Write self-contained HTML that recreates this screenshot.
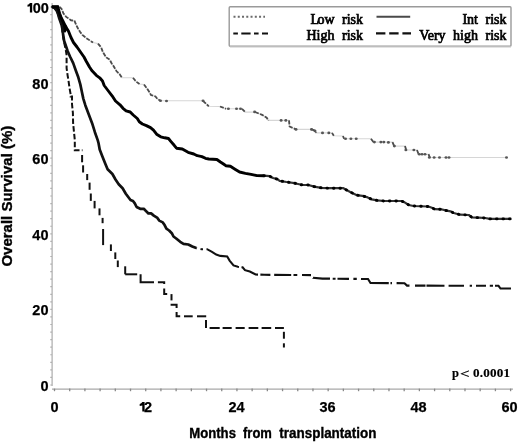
<!DOCTYPE html>
<html><head><meta charset="utf-8"><style>
html,body{margin:0;padding:0;background:#fff;}
body{width:520px;height:443px;overflow:hidden;position:relative;}
svg{position:absolute;left:0;top:0;filter:blur(0.4px);}
.sans{font-family:"Liberation Sans",sans-serif;font-weight:bold;}
</style></head><body>
<svg width="520" height="443" viewBox="0 0 520 443">
<rect x="0" y="0" width="520" height="443" fill="#fff"/>
<line x1="52.1" y1="3" x2="52.1" y2="386" stroke="#ababab" stroke-width="1.2"/>
<line x1="52" y1="389.1" x2="513" y2="389.1" stroke="#a8a8a8" stroke-width="1.2"/>
<line x1="50.3" y1="385.00" x2="52" y2="385.00" stroke="#b0b0b0" stroke-width="1.2"/>
<line x1="50.3" y1="377.44" x2="52" y2="377.44" stroke="#b0b0b0" stroke-width="1.2"/>
<line x1="50.3" y1="369.88" x2="52" y2="369.88" stroke="#b0b0b0" stroke-width="1.2"/>
<line x1="50.3" y1="362.32" x2="52" y2="362.32" stroke="#b0b0b0" stroke-width="1.2"/>
<line x1="50.3" y1="354.76" x2="52" y2="354.76" stroke="#b0b0b0" stroke-width="1.2"/>
<line x1="50.3" y1="347.20" x2="52" y2="347.20" stroke="#b0b0b0" stroke-width="1.2"/>
<line x1="50.3" y1="339.64" x2="52" y2="339.64" stroke="#b0b0b0" stroke-width="1.2"/>
<line x1="50.3" y1="332.08" x2="52" y2="332.08" stroke="#b0b0b0" stroke-width="1.2"/>
<line x1="50.3" y1="324.52" x2="52" y2="324.52" stroke="#b0b0b0" stroke-width="1.2"/>
<line x1="50.3" y1="316.96" x2="52" y2="316.96" stroke="#b0b0b0" stroke-width="1.2"/>
<line x1="50.3" y1="309.40" x2="52" y2="309.40" stroke="#b0b0b0" stroke-width="1.2"/>
<line x1="50.3" y1="301.84" x2="52" y2="301.84" stroke="#b0b0b0" stroke-width="1.2"/>
<line x1="50.3" y1="294.28" x2="52" y2="294.28" stroke="#b0b0b0" stroke-width="1.2"/>
<line x1="50.3" y1="286.72" x2="52" y2="286.72" stroke="#b0b0b0" stroke-width="1.2"/>
<line x1="50.3" y1="279.16" x2="52" y2="279.16" stroke="#b0b0b0" stroke-width="1.2"/>
<line x1="50.3" y1="271.60" x2="52" y2="271.60" stroke="#b0b0b0" stroke-width="1.2"/>
<line x1="50.3" y1="264.04" x2="52" y2="264.04" stroke="#b0b0b0" stroke-width="1.2"/>
<line x1="50.3" y1="256.48" x2="52" y2="256.48" stroke="#b0b0b0" stroke-width="1.2"/>
<line x1="50.3" y1="248.92" x2="52" y2="248.92" stroke="#b0b0b0" stroke-width="1.2"/>
<line x1="50.3" y1="241.36" x2="52" y2="241.36" stroke="#b0b0b0" stroke-width="1.2"/>
<line x1="50.3" y1="233.80" x2="52" y2="233.80" stroke="#b0b0b0" stroke-width="1.2"/>
<line x1="50.3" y1="226.24" x2="52" y2="226.24" stroke="#b0b0b0" stroke-width="1.2"/>
<line x1="50.3" y1="218.68" x2="52" y2="218.68" stroke="#b0b0b0" stroke-width="1.2"/>
<line x1="50.3" y1="211.12" x2="52" y2="211.12" stroke="#b0b0b0" stroke-width="1.2"/>
<line x1="50.3" y1="203.56" x2="52" y2="203.56" stroke="#b0b0b0" stroke-width="1.2"/>
<line x1="50.3" y1="196.00" x2="52" y2="196.00" stroke="#b0b0b0" stroke-width="1.2"/>
<line x1="50.3" y1="188.44" x2="52" y2="188.44" stroke="#b0b0b0" stroke-width="1.2"/>
<line x1="50.3" y1="180.88" x2="52" y2="180.88" stroke="#b0b0b0" stroke-width="1.2"/>
<line x1="50.3" y1="173.32" x2="52" y2="173.32" stroke="#b0b0b0" stroke-width="1.2"/>
<line x1="50.3" y1="165.76" x2="52" y2="165.76" stroke="#b0b0b0" stroke-width="1.2"/>
<line x1="50.3" y1="158.20" x2="52" y2="158.20" stroke="#b0b0b0" stroke-width="1.2"/>
<line x1="50.3" y1="150.64" x2="52" y2="150.64" stroke="#b0b0b0" stroke-width="1.2"/>
<line x1="50.3" y1="143.08" x2="52" y2="143.08" stroke="#b0b0b0" stroke-width="1.2"/>
<line x1="50.3" y1="135.52" x2="52" y2="135.52" stroke="#b0b0b0" stroke-width="1.2"/>
<line x1="50.3" y1="127.96" x2="52" y2="127.96" stroke="#b0b0b0" stroke-width="1.2"/>
<line x1="50.3" y1="120.40" x2="52" y2="120.40" stroke="#b0b0b0" stroke-width="1.2"/>
<line x1="50.3" y1="112.84" x2="52" y2="112.84" stroke="#b0b0b0" stroke-width="1.2"/>
<line x1="50.3" y1="105.28" x2="52" y2="105.28" stroke="#b0b0b0" stroke-width="1.2"/>
<line x1="50.3" y1="97.72" x2="52" y2="97.72" stroke="#b0b0b0" stroke-width="1.2"/>
<line x1="50.3" y1="90.16" x2="52" y2="90.16" stroke="#b0b0b0" stroke-width="1.2"/>
<line x1="50.3" y1="82.60" x2="52" y2="82.60" stroke="#b0b0b0" stroke-width="1.2"/>
<line x1="50.3" y1="75.04" x2="52" y2="75.04" stroke="#b0b0b0" stroke-width="1.2"/>
<line x1="50.3" y1="67.48" x2="52" y2="67.48" stroke="#b0b0b0" stroke-width="1.2"/>
<line x1="50.3" y1="59.92" x2="52" y2="59.92" stroke="#b0b0b0" stroke-width="1.2"/>
<line x1="50.3" y1="52.36" x2="52" y2="52.36" stroke="#b0b0b0" stroke-width="1.2"/>
<line x1="50.3" y1="44.80" x2="52" y2="44.80" stroke="#b0b0b0" stroke-width="1.2"/>
<line x1="50.3" y1="37.24" x2="52" y2="37.24" stroke="#b0b0b0" stroke-width="1.2"/>
<line x1="50.3" y1="29.68" x2="52" y2="29.68" stroke="#b0b0b0" stroke-width="1.2"/>
<line x1="50.3" y1="22.12" x2="52" y2="22.12" stroke="#b0b0b0" stroke-width="1.2"/>
<line x1="50.3" y1="14.56" x2="52" y2="14.56" stroke="#b0b0b0" stroke-width="1.2"/>
<line x1="50.3" y1="7.00" x2="52" y2="7.00" stroke="#b0b0b0" stroke-width="1.2"/>
<line x1="54.50" y1="388.6" x2="54.50" y2="391.2" stroke="#888" stroke-width="1.3"/>
<line x1="69.70" y1="388.6" x2="69.70" y2="391.2" stroke="#888" stroke-width="1.3"/>
<line x1="84.91" y1="388.6" x2="84.91" y2="391.2" stroke="#888" stroke-width="1.3"/>
<line x1="100.11" y1="388.6" x2="100.11" y2="391.2" stroke="#888" stroke-width="1.3"/>
<line x1="115.31" y1="388.6" x2="115.31" y2="391.2" stroke="#888" stroke-width="1.3"/>
<line x1="130.52" y1="388.6" x2="130.52" y2="391.2" stroke="#888" stroke-width="1.3"/>
<line x1="145.72" y1="388.6" x2="145.72" y2="391.2" stroke="#888" stroke-width="1.3"/>
<line x1="160.92" y1="388.6" x2="160.92" y2="391.2" stroke="#888" stroke-width="1.3"/>
<line x1="176.13" y1="388.6" x2="176.13" y2="391.2" stroke="#888" stroke-width="1.3"/>
<line x1="191.33" y1="388.6" x2="191.33" y2="391.2" stroke="#888" stroke-width="1.3"/>
<line x1="206.53" y1="388.6" x2="206.53" y2="391.2" stroke="#888" stroke-width="1.3"/>
<line x1="221.74" y1="388.6" x2="221.74" y2="391.2" stroke="#888" stroke-width="1.3"/>
<line x1="236.94" y1="388.6" x2="236.94" y2="391.2" stroke="#888" stroke-width="1.3"/>
<line x1="252.14" y1="388.6" x2="252.14" y2="391.2" stroke="#888" stroke-width="1.3"/>
<line x1="267.35" y1="388.6" x2="267.35" y2="391.2" stroke="#888" stroke-width="1.3"/>
<line x1="282.55" y1="388.6" x2="282.55" y2="391.2" stroke="#888" stroke-width="1.3"/>
<line x1="297.75" y1="388.6" x2="297.75" y2="391.2" stroke="#888" stroke-width="1.3"/>
<line x1="312.96" y1="388.6" x2="312.96" y2="391.2" stroke="#888" stroke-width="1.3"/>
<line x1="328.16" y1="388.6" x2="328.16" y2="391.2" stroke="#888" stroke-width="1.3"/>
<line x1="343.36" y1="388.6" x2="343.36" y2="391.2" stroke="#888" stroke-width="1.3"/>
<line x1="358.57" y1="388.6" x2="358.57" y2="391.2" stroke="#888" stroke-width="1.3"/>
<line x1="373.77" y1="388.6" x2="373.77" y2="391.2" stroke="#888" stroke-width="1.3"/>
<line x1="388.97" y1="388.6" x2="388.97" y2="391.2" stroke="#888" stroke-width="1.3"/>
<line x1="404.18" y1="388.6" x2="404.18" y2="391.2" stroke="#888" stroke-width="1.3"/>
<line x1="419.38" y1="388.6" x2="419.38" y2="391.2" stroke="#888" stroke-width="1.3"/>
<line x1="434.58" y1="388.6" x2="434.58" y2="391.2" stroke="#888" stroke-width="1.3"/>
<line x1="449.79" y1="388.6" x2="449.79" y2="391.2" stroke="#888" stroke-width="1.3"/>
<line x1="464.99" y1="388.6" x2="464.99" y2="391.2" stroke="#888" stroke-width="1.3"/>
<line x1="480.19" y1="388.6" x2="480.19" y2="391.2" stroke="#888" stroke-width="1.3"/>
<line x1="495.40" y1="388.6" x2="495.40" y2="391.2" stroke="#888" stroke-width="1.3"/>
<line x1="510.60" y1="388.6" x2="510.60" y2="391.2" stroke="#888" stroke-width="1.3"/>
<polygon points="51.3,5.8 58.8,5.5 59.2,8.1 60,12.2 61.2,16.2 62.8,19.9 65.3,23.4 67.5,27.5 67,30 65.5,32.5 62.8,32.5 62,28.8 61.1,25 59.9,21.5 58.6,18 57.6,14 56.4,10.8 54.6,8.3 51.3,7.4" fill="#000"/>
<polyline points="52,6.8 59.5,6.8 61.5,8.8 63.5,13.5 66.2,16.9 68.3,18.2 71,20.3 74.4,20.6 76.2,24.9 78.1,28.7 80,31.8 82.4,34.9 86.2,38 89.9,40.5 93,42.6 98,43.6 101.1,47.3 103,52.3 106.1,57.3 109.8,59.8 111.7,63.5 113.2,65.6 116.6,71.3 119.5,74 122,77.8 133,77.8 134,79 136,81.5 139.5,84 144,84.5 147,88.5 149,91.5 151,95 155.5,96.5 157.5,99 160.5,100.8 203,100.8 208.8,106.3 220,106.5 226,108.8 242,108.8 245.2,112.1 255,112 262.1,114.8 266.7,117.7 268.5,120.4 289,120.4 289.6,126.5 296,129.4 311.5,129.4 315,130.6 316.1,132.9 332,132.9 333.8,135.8 343,136 344,138.8 371,138.8 373.5,142.1 392.5,142.1 394.2,146.1 405,146.1 406.2,150 417,150 418.6,154.2 428.5,154.2 429.8,157.5 507,157.5" fill="none" stroke="#d6d6d6" stroke-width="1.1"/>
<polyline points="59.5,6.8 61.5,8.8 63.5,13.5 66.2,16.9 68.3,18.2 71,20.3 74.4,20.6 76.2,24.9 78.1,28.7 80,31.8 82.4,34.9 86.2,38 89.9,40.5 93,42.6" fill="none" stroke="#4c4c4c" stroke-width="1.8" stroke-dasharray="4,1.4"/>
<polyline points="98,43.6 101.1,47.3 103,52.3 106.1,57.3 109.8,59.8 111.7,63.5 113.2,65.6 116.6,71.3 119.5,74 122,77.8" fill="none" stroke="#4c4c4c" stroke-width="1.8" stroke-dasharray="4,1.4"/>
<polyline points="133,77.8 134,79 136,81.5 139.5,84" fill="none" stroke="#4c4c4c" stroke-width="1.8" stroke-dasharray="4,1.4"/>
<polyline points="144,84.5 147,88.5 149,91.5 151,95 155.5,96.5 157.5,99 160.5,100.8" fill="none" stroke="#4c4c4c" stroke-width="1.8" stroke-dasharray="4,1.4"/>
<polyline points="203,100.8 208.8,106.3" fill="none" stroke="#4c4c4c" stroke-width="1.8" stroke-dasharray="4,1.4"/>
<polyline points="220,106.5 226,108.8" fill="none" stroke="#4c4c4c" stroke-width="1.8" stroke-dasharray="4,1.4"/>
<polyline points="242,108.8 245.2,112.1" fill="none" stroke="#4c4c4c" stroke-width="1.8" stroke-dasharray="4,1.4"/>
<polyline points="255,112 262.1,114.8 266.7,117.7 268.5,120.4" fill="none" stroke="#4c4c4c" stroke-width="1.8" stroke-dasharray="4,1.4"/>
<polyline points="289,120.4 289.6,126.5 296,129.4" fill="none" stroke="#4c4c4c" stroke-width="1.8" stroke-dasharray="4,1.4"/>
<polyline points="311.5,129.4 315,130.6 316.1,132.9" fill="none" stroke="#4c4c4c" stroke-width="1.8" stroke-dasharray="4,1.4"/>
<polyline points="332,132.9 333.8,135.8" fill="none" stroke="#4c4c4c" stroke-width="1.8" stroke-dasharray="4,1.4"/>
<polyline points="343,136 344,138.8" fill="none" stroke="#4c4c4c" stroke-width="1.8" stroke-dasharray="4,1.4"/>
<polyline points="371,138.8 373.5,142.1" fill="none" stroke="#4c4c4c" stroke-width="1.8" stroke-dasharray="4,1.4"/>
<polyline points="392.5,142.1 394.2,146.1" fill="none" stroke="#4c4c4c" stroke-width="1.8" stroke-dasharray="4,1.4"/>
<polyline points="405,146.1 406.2,150" fill="none" stroke="#4c4c4c" stroke-width="1.8" stroke-dasharray="4,1.4"/>
<polyline points="417,150 418.6,154.2" fill="none" stroke="#4c4c4c" stroke-width="1.8" stroke-dasharray="4,1.4"/>
<polyline points="428.5,154.2 429.8,157.5" fill="none" stroke="#4c4c4c" stroke-width="1.8" stroke-dasharray="4,1.4"/>
<ellipse cx="160.5" cy="100.8" rx="1.5" ry="1.3" fill="#555"/>
<ellipse cx="166.5" cy="101" rx="1.5" ry="1.3" fill="#555"/>
<ellipse cx="203" cy="100.8" rx="1.5" ry="1.3" fill="#555"/>
<ellipse cx="228.4" cy="108.8" rx="1.5" ry="1.3" fill="#555"/>
<ellipse cx="236.5" cy="108.8" rx="1.5" ry="1.3" fill="#555"/>
<ellipse cx="240.5" cy="108.8" rx="1.5" ry="1.3" fill="#555"/>
<ellipse cx="254.6" cy="111.9" rx="1.5" ry="1.3" fill="#555"/>
<ellipse cx="281.1" cy="120.4" rx="1.5" ry="1.3" fill="#555"/>
<ellipse cx="285.8" cy="120.4" rx="1.5" ry="1.3" fill="#555"/>
<ellipse cx="296" cy="129.4" rx="1.5" ry="1.3" fill="#555"/>
<ellipse cx="311.5" cy="129.4" rx="1.5" ry="1.3" fill="#555"/>
<ellipse cx="315" cy="131" rx="1.5" ry="1.3" fill="#555"/>
<ellipse cx="322.5" cy="132.9" rx="1.5" ry="1.3" fill="#555"/>
<ellipse cx="328.8" cy="132.9" rx="1.5" ry="1.3" fill="#555"/>
<ellipse cx="345.5" cy="138.8" rx="1.5" ry="1.3" fill="#555"/>
<ellipse cx="350.9" cy="138.8" rx="1.5" ry="1.3" fill="#555"/>
<ellipse cx="356.2" cy="138.8" rx="1.5" ry="1.3" fill="#555"/>
<ellipse cx="374.4" cy="142.1" rx="1.5" ry="1.3" fill="#555"/>
<ellipse cx="380.9" cy="142.1" rx="1.5" ry="1.3" fill="#555"/>
<ellipse cx="383.8" cy="142.1" rx="1.5" ry="1.3" fill="#555"/>
<ellipse cx="388.4" cy="142.4" rx="1.5" ry="1.3" fill="#555"/>
<ellipse cx="394.4" cy="146.1" rx="1.5" ry="1.3" fill="#555"/>
<ellipse cx="405.9" cy="150" rx="1.5" ry="1.3" fill="#555"/>
<ellipse cx="413.9" cy="150" rx="1.5" ry="1.3" fill="#555"/>
<ellipse cx="419.3" cy="154.2" rx="1.5" ry="1.3" fill="#555"/>
<ellipse cx="422" cy="154.2" rx="1.5" ry="1.3" fill="#555"/>
<ellipse cx="425" cy="154.2" rx="1.5" ry="1.3" fill="#555"/>
<ellipse cx="429.4" cy="157.5" rx="1.5" ry="1.3" fill="#555"/>
<ellipse cx="434.1" cy="157.5" rx="1.5" ry="1.3" fill="#555"/>
<ellipse cx="439.5" cy="157.5" rx="1.5" ry="1.3" fill="#555"/>
<ellipse cx="446" cy="157.5" rx="1.5" ry="1.3" fill="#555"/>
<ellipse cx="449" cy="157.5" rx="1.5" ry="1.3" fill="#555"/>
<ellipse cx="506.5" cy="157.5" rx="1.5" ry="1.3" fill="#555"/>
<polyline points="52,6.8 54.6,8 56.8,10.8 58,14 59.1,18 60.4,21.5 61.6,25 62.4,29 62.9,32.9 64.1,40.8 66,46.3 67.6,51 70,56.5 73.2,63.1 75.7,70.2 78.3,77.3 80.3,84.4 81.8,91.5 83.3,98.6 85.3,105.2 88.7,114.2 92.1,123.2 94.9,132.2 97.7,140.1 98.5,143 99.7,149.5 102.1,155.8 105.3,163.7 107.6,169.2 112.4,174 115.5,179.5 118.7,184.2 122.6,188.2 125.8,193.7 130.5,200 133,201 134.8,203.4 136.6,207 140.2,208.8 143.8,208.8 146.5,211.6 148.4,213.4 151.1,213.4 153.8,215.6 157.4,217.9 159.2,220.6 162.8,222.4 164.6,225.1 166.4,228.7 169.1,230.5 171.8,233.2 173.5,236.5 176.2,238.5 180.2,241.8 183.5,243.8 188.3,244.5 192.3,246.5 196.3,248.1" fill="none" stroke="#111" stroke-width="2.7" stroke-linejoin="round"/>
<polyline points="196.3,248.1 201.7,249.2 207.1,249.2 212,251.9 216.2,254.6 220.3,255.9 227.2,256.5 229.6,260.6 233.5,265.4 237.8,266.8 242.6,267.3 245,270.2 249.8,271.6 255.6,274.5 264.2,274.8 311,275.1 313,277.8 322.5,278.6 368,279 370.5,283 404.5,283.2 407,285.6 498.5,285.8 500.5,288.5 511,288.5" fill="none" stroke="#111" stroke-width="2.1" stroke-dasharray="0.71,3.57,2.52,3.50,39.08,2.51,18.76,2.40,10.00,3.80,17.00,2.30,3.80,4.70,9.00,3.36,17.03,2.70,2.90,1.90,11.50,4.40,3.40,4.20,30.02,1.70,1.50,4.60,13.87,5.50,10.50,1.00,18.00,4.10,15.40,5.70,2.30,4.00,10.00,3.80,3.20,2.00,17.36,1000.00" />
<polyline points="52,6.8 54.6,8 56.9,10.8 58.2,14 59.3,18 60.6,21.5 61.7,25 62.3,29 62.4,32 63.3,38 64.5,44 65.8,50 66.6,55 66.6,68.2 67.6,75.3 68.6,81.4 69.6,88.5 70.7,94.6 70.7,96.5 72,96.5 72,104 72.9,113 73.1,123.2 74,132.2 74.8,140 74.8,150.3 82.5,150.3" fill="none" stroke="#111" stroke-width="2" stroke-dasharray="5.5,2.3"/>
<line x1="82.1" y1="155" x2="82.1" y2="162.3" stroke="#111" stroke-width="2"/>
<line x1="83.1" y1="165.3" x2="83.1" y2="172.5" stroke="#111" stroke-width="2"/>
<line x1="87.2" y1="174" x2="87.2" y2="180.1" stroke="#111" stroke-width="2"/>
<line x1="89.6" y1="182.6" x2="89.6" y2="189.8" stroke="#111" stroke-width="2"/>
<line x1="90.8" y1="193.5" x2="90.8" y2="200.9" stroke="#111" stroke-width="2"/>
<line x1="94.6" y1="200.9" x2="94.6" y2="208.4" stroke="#111" stroke-width="2"/>
<line x1="99.5" y1="208.4" x2="99.5" y2="215.3" stroke="#111" stroke-width="2"/>
<line x1="102.6" y1="217.9" x2="102.6" y2="223.2" stroke="#111" stroke-width="2"/>
<line x1="103.1" y1="229" x2="103.1" y2="245.1" stroke="#111" stroke-width="2"/>
<line x1="110.9" y1="244.4" x2="110.9" y2="251" stroke="#111" stroke-width="2"/>
<line x1="115.3" y1="252.4" x2="115.3" y2="259" stroke="#111" stroke-width="2"/>
<line x1="117.8" y1="260.5" x2="117.8" y2="267.1" stroke="#111" stroke-width="2"/>
<line x1="125.2" y1="266.3" x2="125.2" y2="274.3" stroke="#111" stroke-width="2"/>
<polyline points="125.2,274.3 137.2,274.3" fill="none" stroke="#111" stroke-width="2" stroke-linejoin="miter"/>
<polyline points="140.6,274.3 140.6,282.2 154,282.2" fill="none" stroke="#111" stroke-width="2" stroke-linejoin="miter"/>
<polyline points="157.9,282.2 164.2,282.2 164.2,284.1" fill="none" stroke="#111" stroke-width="2" stroke-linejoin="miter"/>
<polyline points="164.2,288.4 164.2,294.1 167.2,294.1" fill="none" stroke="#111" stroke-width="2" stroke-linejoin="miter"/>
<polyline points="171.5,294.1 171.5,300.4" fill="none" stroke="#111" stroke-width="2" stroke-linejoin="miter"/>
<polyline points="170.6,304.7 176.6,304.7 176.6,308.1" fill="none" stroke="#111" stroke-width="2" stroke-linejoin="miter"/>
<polyline points="176.6,311.9 176.6,316.3 180.2,316.3" fill="none" stroke="#111" stroke-width="2" stroke-linejoin="miter"/>
<polyline points="184,316.3 192.7,316.3" fill="none" stroke="#111" stroke-width="2" stroke-linejoin="miter"/>
<polyline points="197,316.3 206.2,316.3" fill="none" stroke="#111" stroke-width="2" stroke-linejoin="miter"/>
<polyline points="206,320 206,328" fill="none" stroke="#111" stroke-width="2" stroke-linejoin="miter"/>
<polyline points="209.6,328 219.7,328" fill="none" stroke="#111" stroke-width="2" stroke-linejoin="miter"/>
<polyline points="222.6,328 231.7,328" fill="none" stroke="#111" stroke-width="2" stroke-linejoin="miter"/>
<polyline points="235.6,328 244.7,328" fill="none" stroke="#111" stroke-width="2" stroke-linejoin="miter"/>
<polyline points="248.6,328 258.3,328" fill="none" stroke="#111" stroke-width="2" stroke-linejoin="miter"/>
<polyline points="261.6,328 271.2,328" fill="none" stroke="#111" stroke-width="2" stroke-linejoin="miter"/>
<polyline points="275,328 283.9,328" fill="none" stroke="#111" stroke-width="2" stroke-linejoin="miter"/>
<polyline points="283.9,331.8 283.9,338.7" fill="none" stroke="#111" stroke-width="2" stroke-linejoin="miter"/>
<polyline points="283.9,343.3 283.9,347.5" fill="none" stroke="#111" stroke-width="2" stroke-linejoin="miter"/>
<polyline points="52,6.8 57.8,6.8 58.6,10 59.6,13.5 61,17 62.6,20.5 64.3,24 66.5,28 68.4,31 71,37.5 73.5,42.5 77,47 80.5,52 84,57 86.1,61 89.5,67 91.8,70.5 96.3,75.3 99.7,77.8 102.5,81 104.2,85.5 107.6,90 112.1,95.8 115.5,101 120,104.8 123,108.3 126.1,110.8 130.2,112 133.2,115 137.3,118.5 139.3,121.8 142.4,124 146.4,125.6 150.5,127.6 153.5,130.2 156.6,134.2 160.7,136.8 164.7,137.8 168.5,138.5 170.8,141.3 174.2,145.3 176.5,148.2 182.3,149 188.1,152.3 193.8,154 197.3,155.7 201.9,156.6 205.4,158.3 208.8,159 216.9,159.5 220.4,162 223.5,164 225.8,165.7 230.4,166.3 235,169.2 239.6,172 245.4,173.3 251.1,174.4 256.9,175.6 263.8,175.7" fill="none" stroke="#000" stroke-width="2.9" stroke-linejoin="round"/>
<polyline points="263.8,175.7 269.6,176.2 273.1,178 277.5,179.2 279.6,180.8 286.5,182 294.6,183.2 301.5,184.8 308.4,185 314.2,186.6 321.1,187.8 328.1,188.2 343.5,188.2 347.5,190.6 350.2,192 356.9,195.2 362.3,195.8 367.7,197.4 371.7,199.3 377.1,200.4 383.8,201 401.3,201 404.2,202.1 408.8,205 413.5,206 428.4,206.5 431.9,207.8 434.8,209.2 441.1,209.3 445.7,210.4 450.4,211.3 453.8,213 460,214.7 468.8,215 471.9,217.3 478.8,217.7 485,218 490,218.9 511.3,218.9" fill="none" stroke="#333" stroke-width="2.2" stroke-linejoin="round"/>
<polyline points="263.8,175.7 269.6,176.2 273.1,178 277.5,179.2 279.6,180.8 286.5,182 294.6,183.2 301.5,184.8 308.4,185 314.2,186.6 321.1,187.8 328.1,188.2 343.5,188.2 347.5,190.6 350.2,192 356.9,195.2 362.3,195.8 367.7,197.4 371.7,199.3 377.1,200.4 383.8,201 401.3,201 404.2,202.1 408.8,205 413.5,206 428.4,206.5 431.9,207.8 434.8,209.2 441.1,209.3 445.7,210.4 450.4,211.3 453.8,213 460,214.7 468.8,215 471.9,217.3 478.8,217.7 485,218 490,218.9 511.3,218.9" fill="none" stroke="#000" stroke-width="2.9" stroke-linecap="round" stroke-dasharray="0.6,5.9"/>
<g class="sans" font-size="14.5" fill="#000" stroke="#000" stroke-width="0.25"><text x="48.5" y="390.90" text-anchor="end">0</text><text x="48.5" y="315.30" text-anchor="end">20</text><text x="48.5" y="239.70" text-anchor="end">40</text><text x="48.5" y="164.10" text-anchor="end">60</text><text x="48.5" y="88.50" text-anchor="end">80</text><text x="48.9" y="12.90" text-anchor="end">00</text><text x="54.50" y="412.2" text-anchor="middle">0</text><text x="152.00" y="412.2" text-anchor="end">2</text><text x="236.50" y="412.2" text-anchor="middle">24</text><text x="327.50" y="412.2" text-anchor="middle">36</text><text x="418.50" y="412.2" text-anchor="middle">48</text><text x="509.50" y="412.2" text-anchor="middle">60</text></g>
<path d="M29.9,2.9 L32.2,2.9 L32.2,12.4 L29.9,12.4 L29.9,6.3 Q28.9,6.7 27.5,6.8 L27.5,4.8 Q29.2,4.5 29.9,2.9 Z" fill="#000"/><path d="M142.3,402 L144.6,402 L144.6,411.6 L142.3,411.6 L142.3,405.4 Q141.2,405.8 139.7,405.9 L139.7,403.9 Q141.5,403.6 142.3,402 Z" fill="#000"/>
<g class="sans" font-size="14" fill="#000" stroke="#000" stroke-width="0.35"><text transform="translate(189.2,438) scale(0.94,1)">Months</text><text transform="translate(243,438) scale(0.93,1)">from</text><text transform="translate(279.3,438) scale(0.962,1)">transplantation</text></g>
<text class="sans" font-size="15" transform="translate(12.4,266.6) rotate(-90)" fill="#000" stroke="#000" stroke-width="0.35">Overall Survival (%)</text>
<g font-family="Liberation Serif" font-weight="bold" font-size="12.5" fill="#000" stroke="#000" stroke-width="0.15"><text x="452" y="377">p</text><text transform="translate(459.9,377.6) scale(1.3,1)" font-size="13">&lt;</text><text transform="translate(473,377) scale(1.05,1)" letter-spacing="0.2">0.0001</text></g>
<!-- legend -->
<rect x="229.2" y="6.7" width="281.8" height="39.5" rx="1" fill="none" stroke="#9a9a9a" stroke-width="1.4"/>
<line x1="230" y1="46.9" x2="511" y2="46.9" stroke="#c8c8c8" stroke-width="1.4"/>
<line x1="233.5" y1="16.8" x2="265" y2="16.8" stroke="#6a6a6a" stroke-width="2" stroke-dasharray="2,2.26"/>
<line x1="233.3" y1="33.5" x2="268" y2="33.5" stroke="#111" stroke-width="2.2" stroke-dasharray="4.6,3.4,9.3,3.4"/>
<line x1="376.5" y1="16.7" x2="410.2" y2="16.7" stroke="#4a4a4a" stroke-width="1.9"/>
<line x1="376" y1="33.4" x2="411" y2="33.4" stroke="#111" stroke-width="2.2" stroke-dasharray="9.4,3.8"/>
<g font-family="Liberation Serif" font-size="14" fill="#000" stroke="#000" stroke-width="0.7" text-anchor="end" word-spacing="4">
<text x="363" y="23.8">L<tspan dx="-1.6">ow</tspan> risk</text>
<text x="363" y="39.6">High risk</text>
<text x="506.5" y="23.8">Int risk</text>
<text x="506.5" y="39.6">Very high risk</text>
</g>
</svg>
</body></html>
